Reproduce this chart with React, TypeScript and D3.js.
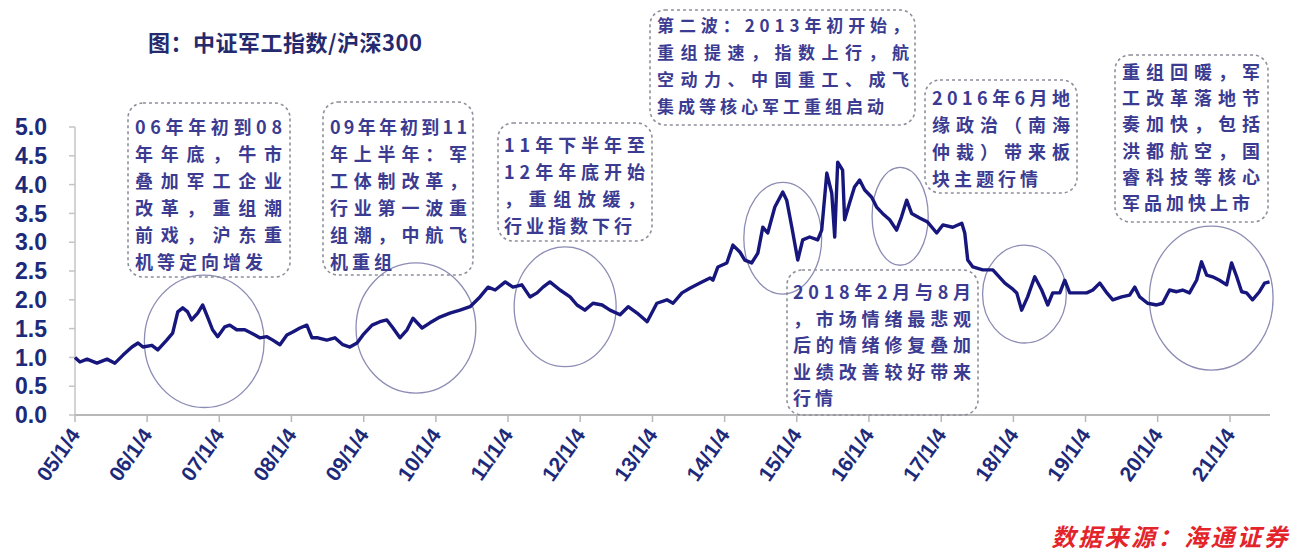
import React from "react";
import * as d3 from "d3";

const seriesDates: string[] = [
  "2005-01-04","2005-01-29","2005-03-06","2005-04-25","2005-06-15","2005-07-25","2005-09-04","2005-10-19","2005-11-19","2005-12-14",
  "2006-01-28","2006-02-27","2006-04-13","2006-05-13","2006-06-08","2006-07-03","2006-07-28","2006-08-17","2006-09-17","2006-10-12","2006-11-06","2006-12-01","2006-12-27",
  "2007-02-01","2007-02-26","2007-04-02","2007-05-13","2007-06-17","2007-07-28","2007-09-02","2007-10-02","2007-11-07","2007-12-12",
  "2008-01-11","2008-02-16","2008-03-22","2008-04-17","2008-05-17","2008-07-01","2008-08-11","2008-09-20","2008-10-26","2008-12-01","2008-12-31",
  "2009-02-15","2009-03-27","2009-05-01","2009-06-01","2009-07-06","2009-08-11","2009-09-10","2009-10-26","2009-12-05",
  "2010-01-24","2010-03-16","2010-05-06","2010-06-26","2010-08-15","2010-09-25","2010-10-31","2010-12-21",
  "2011-01-29","2011-03-15","2011-04-25","2011-05-31","2011-06-30","2011-08-04","2011-09-24","2011-11-14","2011-12-19",
  "2012-01-28","2012-03-09","2012-04-24","2012-06-03","2012-07-24","2012-09-03","2012-10-18","2012-12-08",
  "2013-01-26","2013-03-18","2013-04-18","2013-06-02","2013-07-12","2013-09-01","2013-10-22","2013-11-06","2013-12-01",
  "2014-01-15","2014-02-15","2014-03-22","2014-04-16","2014-05-21","2014-06-21","2014-07-16","2014-08-10","2014-09-15","2014-10-25","2014-11-14","2014-12-10",
  "2015-01-09","2015-02-03","2015-03-10","2015-04-20","2015-05-10","2015-06-05","2015-06-30","2015-07-15","2015-07-30","2015-08-24","2015-09-03","2015-09-28","2015-10-23","2015-11-18","2015-12-13",
  "2016-01-18","2016-02-12","2016-03-13","2016-04-18","2016-05-23","2016-06-17","2016-07-13","2016-08-07","2016-09-17","2016-10-27","2016-12-12",
  "2017-01-12","2017-03-03","2017-04-18","2017-05-03","2017-05-18","2017-06-13","2017-08-02","2017-09-22","2017-11-22","2017-12-27",
  "2018-01-21","2018-02-15","2018-03-17","2018-04-22","2018-05-27","2018-06-27","2018-07-22","2018-08-27","2018-09-21","2018-10-16","2018-11-21",
  "2019-01-10","2019-02-10","2019-03-17","2019-04-22","2019-05-22","2019-07-06","2019-08-15","2019-09-10","2019-10-05","2019-11-14","2019-12-30",
  "2020-01-29","2020-03-04","2020-04-09","2020-05-09","2020-06-13","2020-07-19","2020-08-13","2020-09-08","2020-10-08","2020-11-12","2020-12-18",
  "2021-01-12","2021-02-07","2021-03-04","2021-03-29","2021-04-28","2021-06-02","2021-06-28","2021-07-23",
];

const seriesValues: number[] = [
  1.00,0.92,0.97,0.90,0.97,0.90,1.04,1.18,1.25,1.18,
  1.21,1.13,1.30,1.42,1.79,1.86,1.79,1.65,1.77,1.91,1.70,1.48,1.36,
  1.53,1.56,1.48,1.48,1.42,1.34,1.36,1.30,1.22,1.39,
  1.44,1.51,1.56,1.34,1.34,1.30,1.34,1.22,1.18,1.25,1.39,
  1.56,1.62,1.65,1.51,1.34,1.48,1.68,1.51,1.60,
  1.70,1.77,1.82,1.88,2.05,2.22,2.17,2.31,
  2.22,2.26,2.05,2.12,2.22,2.31,2.17,2.05,1.91,
  1.82,1.94,1.91,1.82,1.74,1.88,1.77,1.62,
  1.94,2.00,1.94,2.12,2.20,2.29,2.38,2.34,2.57,
  2.64,2.95,2.83,2.69,2.64,2.81,3.26,3.16,3.61,3.87,3.73,3.26,
  2.69,3.04,3.09,3.04,3.21,4.20,3.85,3.09,4.39,4.25,3.39,3.68,3.96,4.08,3.91,
  3.78,3.61,3.50,3.39,3.21,3.44,3.73,3.50,3.42,3.35,3.16,
  3.30,3.26,3.33,3.16,2.69,2.57,2.52,2.52,2.29,2.20,
  2.12,1.82,2.05,2.40,2.17,1.91,2.12,2.12,2.34,2.12,2.12,
  2.12,2.17,2.29,2.12,2.00,2.05,2.08,2.22,2.05,1.94,1.91,
  1.94,2.17,2.14,2.17,2.12,2.34,2.66,2.43,2.40,2.34,2.26,
  2.64,2.40,2.14,2.12,2.00,2.14,2.29,2.31,
];

const tickYears: number[] = [2005,2006,2007,2008,2009,2010,2011,2012,2013,2014,2015,2016,2017,2018,2019,2020,2021];
const tickLabels: string[] = ["05/1/4","06/1/4","07/1/4","08/1/4","09/1/4","10/1/4","11/1/4","12/1/4","13/1/4","14/1/4","15/1/4","16/1/4","17/1/4","18/1/4","19/1/4","20/1/4","21/1/4"];
const yTicks: number[] = [0,0.5,1,1.5,2,2.5,3,3.5,4,4.5,5];

const titleText = "图：中证军工指数/沪深300";
const sourceText = "数据来源：海通证券";

// annotation texts
const note1 = ["06年年初到08","年年底，牛市","叠加军工企业","改革，重组潮","前戏，沪东重","机等定向增发"];
const note2 = ["09年年初到11","年上半年：军","工体制改革，","行业第一波重","组潮，中航飞","机重组"];
const note3 = ["11年下半年至","12年年底开始","，重组放缓，","行业指数下行"];
const note4 = ["第二波：2013年初开始，","重组提速，指数上行，航","空动力、中国重工、成飞","集成等核心军工重组启动"];
const note5 = ["2016年6月地","缘政治（南海","仲裁）带来板","块主题行情"];
const note6 = ["重组回暖，军","工改革落地节","奏加快，包括","洪都航空，国","睿科技等核心","军品加快上市"];
const note7 = ["2018年2月与8月","，市场情绪最悲观","后的情绪修复叠加","业绩改善较好带来","行情"];

// ellipse highlights: centre date/value, half-width (days), half-height (value units)
const highlightCenters: string[] = ["2006-10-20","2009-09-25","2011-10-20","2014-10-25","2016-06-10","2018-03-01","2020-10-01"];
const highlightCenterValues: number[] = [1.28,1.51,1.88,3.07,3.45,2.10,2.03];
const highlightHalfWidthDays: number[] = [303,303,258,197,142,212,313];
const highlightHalfHeights: number[] = [1.15,1.13,1.04,0.97,0.85,0.85,1.25];

const W = 1299;
const H = 555;

const x = d3.scaleTime()
  .domain([new Date(2005, 0, 4), new Date(2021, 0, 4)])
  .range([75, 1230]);
const y = d3.scaleLinear().domain([0, 5]).range([415, 127]);

const parse = d3.timeParse("%Y-%m-%d");
const points = seriesDates.map((d, i) => ({ date: parse(d) as Date, value: seriesValues[i] }));

const line = d3.line<{ date: Date; value: number }>()
  .x((d) => x(d.date))
  .y((d) => y(d.value))
  .curve(d3.curveLinear);

const NAVY = "#16167d";
const NOTE_COLOR = "#3b3b92";
const CJK = "'Noto Sans CJK SC', 'Noto Sans', sans-serif";
const LATIN = "'Liberation Sans', Arial, sans-serif";

type NoteProps = {
  lines: string[];
  bx: number; by: number; bw: number; bh: number;
  tx: number; ty: number; tw: number; lh: number; fs: number;
};

function Note({ lines, bx, by, bw, bh, tx, ty, tw, lh, fs }: NoteProps) {
  return (
    <g>
      <rect x={bx} y={by} width={bw} height={bh} rx={15} ry={15}
        fill="none" stroke="#8f8f9c" strokeWidth={1.6} strokeDasharray="3 3" />
      {lines.map((t, i) => {
        const justify = i < lines.length - 1;
        return (
          <text key={i} x={tx} y={ty + i * lh} fontFamily={CJK} fontWeight={700}
            fontSize={fs} fill={NOTE_COLOR}
            {...(justify ? { textLength: tw, lengthAdjust: "spacing" } : { letterSpacing: 4 })}>
            {t}
          </text>
        );
      })}
    </g>
  );
}

export default function App() {
  const tickDates = tickYears.map((yr) => new Date(yr, 0, 4));
  const xEnd = 1270;
  return (
    <svg width={W} height={H} style={{ display: "block", position: "absolute", left: 0, top: 0, background: "#fff" }}>
      <rect width={W} height={H} fill="#ffffff" />
      {/* title */}
      <text x={148} y={51} fontFamily={CJK} fontWeight={700} fontSize={22} fill="#252a6e" letterSpacing={0.5}>
        {titleText}
      </text>

      {/* axes */}
      <line x1={75} x2={75} y1={y(5)} y2={y(0)} stroke="#c4c4c4" strokeWidth={1.5} />
      {yTicks.map((v) => (
        <g key={v}>
          <line x1={69} x2={75} y1={y(v)} y2={y(v)} stroke="#c4c4c4" strokeWidth={1.5} />
          <text x={47} y={y(v)} dy="0.36em" textAnchor="end" fontFamily={LATIN} fontWeight={700}
            fontSize={23} fill="#1d2a7a">{v.toFixed(1)}</text>
        </g>
      ))}
      <line x1={75} x2={xEnd} y1={y(0)} y2={y(0)} stroke="#b8b8b8" strokeWidth={2} />
      {tickDates.map((d, i) => (
        <g key={i}>
          <line x1={x(d)} x2={x(d)} y1={y(0)} y2={y(0) + 7} stroke="#b8b8b8" strokeWidth={1.5} />
          <text transform={`translate(${x(d) + 6},${y(0) + 20}) rotate(-55)`} textAnchor="end"
            fontFamily={LATIN} fontWeight={700} fontSize={21} fill="#1d2a7a">{tickLabels[i]}</text>
        </g>
      ))}

      {/* highlight ellipses */}
      {highlightCenters.map((c, i) => {
        const cd = parse(c) as Date;
        const cx = x(cd);
        const rx = x(d3.timeDay.offset(cd, highlightHalfWidthDays[i])) - cx;
        const cy = y(highlightCenterValues[i]);
        const ry = y(0) - y(highlightHalfHeights[i]);
        return <ellipse key={i} cx={cx} cy={cy} rx={rx} ry={ry} fill="none" stroke="#8c8cb4" strokeWidth={1.3} />;
      })}

      {/* series line */}
      <path d={line(points) || ""} fill="none" stroke={NAVY} strokeWidth={3.4} strokeLinejoin="round" />

      {/* notes */}
      <Note lines={note1} bx={128} by={103} bw={162} bh={174} tx={135} ty={134} tw={147} lh={27} fs={18} />
      <Note lines={note2} bx={323} by={102} bw={150} bh={173} tx={330} ty={134} tw={137} lh={27} fs={18} />
      <Note lines={note3} bx={498} by={123} bw={154} bh={118} tx={504} ty={152} tw={141} lh={27} fs={18} />
      <Note lines={note4} bx={650} by={10} bw={265} bh={115} tx={657} ty={32} tw={252} lh={27} fs={17} />
      <Note lines={note5} bx={925} by={80} bw={152} bh={113} tx={932} ty={105} tw={138} lh={27} fs={18} />
      <Note lines={note6} bx={1115} by={55} bw={153} bh={167} tx={1122} ty={79} tw={138} lh={26.2} fs={18} />
      <Note lines={note7} bx={787} by={270} bw={191} bh={145} tx={793} ty={299} tw={178} lh={26.5} fs={18} />

      {/* source */}
      <text x={1290} y={546} textAnchor="end" fontFamily={CJK} fontWeight={700} fontStyle="italic"
        fontSize={24} fill="#e3242b" letterSpacing={2.5}>{sourceText}</text>
    </svg>
  );
}
